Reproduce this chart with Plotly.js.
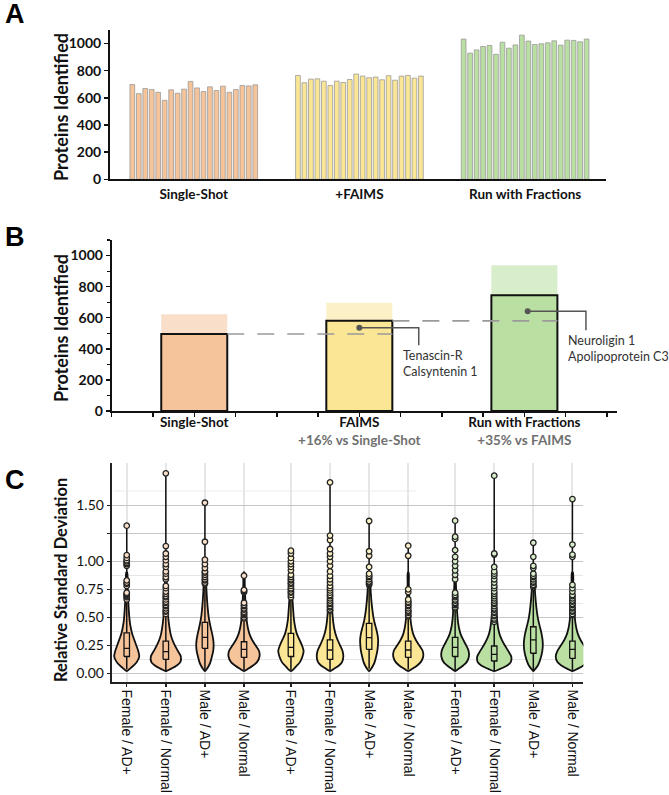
<!DOCTYPE html>
<html><head><meta charset="utf-8">
<script src="https://cdn.plot.ly/plotly-3.0.1.min.js"></script>
<style>html,body{margin:0;padding:0;background:#fff}</style>
</head><body><div id="chart" style="width:669px;height:795px"></div>
<script>
// ---------- Panel A: proteins identified per run ----------
const methodsA = ["Single-Shot", "+FAIMS", "Run with Fractions"];
const singleShotRuns = [698,631,669,661,641,582,659,634,664,721,673,646,681,654,686,641,661,691,688,696];
const faimsRuns = [765,711,738,740,723,691,723,713,735,775,760,748,753,733,763,730,760,765,745,760];
const fractionRuns = [1033,929,953,978,986,921,1010,966,990,1062,1018,993,998,1005,1020,988,1025,1023,1013,1033];

// ---------- Panel B: proteins identified across all runs ----------
const methodsB = ["Single-Shot", "FAIMS", "Run with Fractions"];
const gainLabels = ["", "+16% vs Single-Shot", "+35% vs FAIMS"];
const consistentProteins = [495, 580, 745];
const totalProteins = [622, 696, 937];
const calloutTexts = ["Tenascin-R<br>Calsyntenin 1", "Neuroligin 1<br>Apolipoprotein C3"];
const calloutValues = [536, 641];

// ---------- Panel C: relative standard deviation ----------
const cohorts = ["Female / AD+", "Female / Normal", "Male / AD+", "Male / Normal"];
const rsdMin = [0.035,0.015,0.03,0.03, 0.03,0.025,0.04,0.035, 0.02,0.02,0.025,0.025];
const rsdQ1 = [0.15,0.125,0.223,0.142, 0.15,0.125,0.214,0.142, 0.15,0.11,0.179,0.134];
const rsdMedian = [0.223,0.193,0.321,0.214, 0.232,0.208,0.318,0.208, 0.232,0.17,0.298,0.214];
const rsdQ3 = [0.362,0.288,0.455,0.282, 0.357,0.298,0.446,0.288, 0.321,0.244,0.416,0.288];
const rsdMax = [1.318,1.786,1.523,0.872, 1.095,1.705,1.36,1.14, 1.363,1.765,1.166,1.556];
const densityLevels = [0.02,0.04,0.07,0.10,0.15,0.20,0.25,0.30,0.35,0.40,0.45,0.50,0.60,0.70,0.80,0.90];
const densityProfiles = [
  [0,3,7,10,12.5,11.5,9.5,7.5,5.5,4.2,3.2,2.6,1.8,1.2,0.8,0.5],
  [0,5,11,14.5,15,12,9,6.5,4.8,3.8,3,2.4,1.7,1.2,0.8,0.5],
  [0,2,4,5.5,7,8.3,8.7,8.3,7.3,6,4.8,3.8,2.6,1.8,1.2,0.7],
  [0,4,9,13,15.5,15,11.5,8,5.5,4,3,2.4,1.6,1.1,0.7,0.4],
  [0,3,6,9,11.5,12.7,11,8.5,6,4.5,3.5,2.8,2,1.3,0.9,0.6],
  [0,4,9,12,13.3,12.5,10,7.5,5.5,4.2,3.3,2.7,1.9,1.3,0.9,0.6],
  [0,2,4,5.5,7,8.2,8.8,9,8.3,7,5.5,4.3,2.8,1.8,1.2,0.7],
  [0,4,9,12.5,15,14.5,11,7.5,5,3.6,2.7,2.1,1.4,1,0.6,0.4],
  [0,3.5,8,11.5,13.8,13.5,11,8,5.5,4,3,2.4,1.7,1.2,0.8,0.5],
  [0,6,13,16.5,17,14,10.5,7.5,5.3,4,3.2,2.6,1.8,1.2,0.8,0.5],
  [0,2,4.5,6,7.8,9,9.5,9.2,8.3,7,5.6,4.4,2.9,1.9,1.2,0.7],
  [0,5,11,15,16.7,15,11.5,8,5.5,4,3,2.4,1.7,1.1,0.8,0.5]
];
const rsdOutliers = [
  [0.66,0.68,0.69,0.70,0.71,0.72,0.78,0.80,0.81,0.83,0.96,0.975,0.985,1.0,1.01,1.03,1.056,1.318],
  [0.53,0.55,0.56,0.58,0.60,0.61,0.63,0.64,0.66,0.68,0.69,0.71,0.73,0.76,0.78,0.84,0.86,0.89,0.91,0.95,0.975,1.01,1.04,1.07,1.136,1.786],
  [0.80,0.81,0.83,0.84,0.86,0.88,0.90,0.91,0.94,0.975,1.015,1.175,1.523],
  [0.49,0.50,0.52,0.53,0.54,0.55,0.57,0.58,0.60,0.61,0.63,0.725,0.735,0.745,0.872],
  [0.68,0.70,0.72,0.73,0.75,0.76,0.78,0.80,0.81,0.83,0.84,0.86,0.88,0.92,0.95,0.975,1.0,1.03,1.07,1.095],
  [0.56,0.57,0.59,0.60,0.62,0.63,0.65,0.67,0.69,0.70,0.72,0.74,0.76,0.78,0.81,0.84,0.87,0.91,0.96,1.0,1.04,1.07,1.11,1.19,1.23,1.705],
  [0.79,0.80,0.81,0.82,0.84,0.86,0.87,0.89,0.95,1.05,1.09,1.36],
  [0.51,0.52,0.54,0.55,0.56,0.58,0.60,0.61,0.63,0.64,0.66,0.725,0.75,1.05,1.14],
  [0.58,0.59,0.61,0.62,0.63,0.65,0.66,0.68,0.69,0.70,0.72,0.84,0.88,0.92,0.96,1.0,1.04,1.1,1.2,1.22,1.363],
  [0.46,0.48,0.49,0.51,0.52,0.54,0.55,0.57,0.58,0.60,0.62,0.63,0.65,0.67,0.69,0.71,0.73,0.76,0.78,0.81,0.84,0.87,0.89,0.91,0.95,1.06,1.07,1.765],
  [0.77,0.78,0.79,0.81,0.82,0.84,0.86,0.87,0.89,0.94,0.96,1.04,1.166],
  [0.52,0.53,0.55,0.56,0.58,0.59,0.61,0.62,0.64,0.65,0.67,0.69,0.70,0.73,0.76,0.79,1.04,1.06,1.15,1.556]
];

// ---------- styles ----------
const fillColors = ["#F6C49A", "#FBE696", "#BADFA2"];
const lightColors = ["#F9DFC9", "#FCF1C6", "#D8EECB"];
const FONT = "Lato, 'Open Sans', sans-serif";
const traces = [];

// Panel A bars
const runsA = [singleShotRuns, faimsRuns, fractionRuns];
const groupStride = 25.6;
runsA.forEach((vals, g) => {
  traces.push({
    type: "bar", xaxis: "x", yaxis: "y",
    x: vals.map((v, i) => g * groupStride + i), y: vals, width: 0.73,
    marker: {color: fillColors[g], line: {color: "rgba(150,150,150,0.75)", width: 1}},
    hoverinfo: "y", showlegend: false
  });
});
const centersA = methodsA.map((m, g) => g * groupStride + 9.5);

// Panel B bars
const xB = methodsB.map((m, i) => i);
traces.push({type: "bar", xaxis: "x2", yaxis: "y2", x: xB, y: totalProteins, width: 0.4,
  marker: {color: lightColors, line: {width: 0}}, showlegend: false});
traces.push({type: "bar", xaxis: "x2", yaxis: "y2", x: xB, y: consistentProteins, width: 0.4,
  marker: {color: fillColors, line: {color: "#111", width: 2}}, showlegend: false});
for (let i = 0; i < 2; i++) {
  traces.push({type: "scatter", mode: "lines", xaxis: "x2", yaxis: "y2",
    x: [i + 0.2, i + 1.2], y: [consistentProteins[i], consistentProteins[i]],
    line: {color: "#9a9a9a", width: 1.6, dash: "17px,13px"}, hoverinfo: "skip", showlegend: false});
}
const leaderEnds = [[1.36, 423], [2.373, 519]];
const leaderStarts = [1.0, 2.02];
for (let i = 0; i < 2; i++) {
  traces.push({type: "scatter", mode: "lines", xaxis: "x2", yaxis: "y2",
    x: [leaderStarts[i], leaderEnds[i][0], leaderEnds[i][0]],
    y: [calloutValues[i], calloutValues[i], leaderEnds[i][1]],
    line: {color: "#555", width: 1.5}, hoverinfo: "skip", showlegend: false});
  traces.push({type: "scatter", mode: "markers", xaxis: "x2", yaxis: "y2",
    x: [leaderStarts[i]], y: [calloutValues[i]],
    marker: {color: "#555", size: 6}, hoverinfo: "skip", showlegend: false});
}

// Panel C violins
const pxPerUnit = 39.1;
const boxHalf = 0.07;
const positions = [];
for (let g = 0; g < 3; g++) for (let j = 0; j < 4; j++) positions.push(g * 4 + j + g * 0.2);
const tickTextC = [];
for (let g = 0; g < 3; g++) cohorts.forEach(c => tickTextC.push(c));

positions.forEach((p, k) => {
  const g = Math.floor(k / 4);
  const prof = densityProfiles[k];
  const xs = [], ys = [];
  densityLevels.forEach((lv, i) => { xs.push(p + prof[i] / pxPerUnit); ys.push(lv); });
  for (let i = densityLevels.length - 1; i >= 0; i--) { xs.push(p - prof[i] / pxPerUnit); ys.push(densityLevels[i]); }
  traces.push({type: "scatter", mode: "lines", xaxis: "x3", yaxis: "y3", x: xs, y: ys,
    fill: "toself", fillcolor: fillColors[g], line: {color: "#111", width: 1.8, shape: "spline", smoothing: 0.8},
    hoverinfo: "skip", showlegend: false});
});
{
  const wx = [], wy = [];
  positions.forEach((p, k) => {
    wx.push(p, p, null, p, p, null);
    wy.push(rsdQ3[k], rsdMax[k], null, rsdMin[k], rsdQ1[k], null);
  });
  traces.push({type: "scatter", mode: "lines", xaxis: "x3", yaxis: "y3", x: wx, y: wy,
    line: {color: "#111", width: 1.5}, hoverinfo: "skip", showlegend: false});
}
positions.forEach((p, k) => {
  const g = Math.floor(k / 4);
  traces.push({type: "scatter", mode: "lines", xaxis: "x3", yaxis: "y3",
    x: [p - boxHalf, p + boxHalf, p + boxHalf, p - boxHalf, p - boxHalf],
    y: [rsdQ1[k], rsdQ1[k], rsdQ3[k], rsdQ3[k], rsdQ1[k]],
    fill: "toself", fillcolor: fillColors[g], line: {color: "#111", width: 1.3},
    hoverinfo: "skip", showlegend: false});
  traces.push({type: "scatter", mode: "lines", xaxis: "x3", yaxis: "y3",
    x: [p - boxHalf, p + boxHalf], y: [rsdMedian[k], rsdMedian[k]],
    line: {color: "#111", width: 1.3}, hoverinfo: "y", showlegend: false});
});
positions.forEach((p, k) => {
  const g = Math.floor(k / 4);
  traces.push({type: "scatter", mode: "markers", xaxis: "x3", yaxis: "y3",
    x: rsdOutliers[k].map(() => p), y: rsdOutliers[k],
    marker: {size: 5.5, color: lightColors[g], line: {color: "#222", width: 1.3}},
    hoverinfo: "y", showlegend: false});
});

const tickFontBold = {family: FONT, size: 14, color: "#111", weight: 700};
const labelFontBold = {family: FONT, size: 13.5, color: "#111", weight: 700};
const titleFont = {family: FONT, size: 18, color: "#111", weight: 700};
const letterFont = {family: "'Liberation Sans', Arial, sans-serif", size: 27, color: "#000", weight: 700};

function vTitle(text, xCenterPx, yCenterPx, size) {
  return {xref: "paper", yref: "paper", x: xCenterPx / 669, y: 1 - yCenterPx / 795, xanchor: "center", yanchor: "middle",
    text: text, textangle: -90, showarrow: false, font: Object.assign({}, titleFont, {size: size})};
}
function letter(text, yCenterPx) {
  return {xref: "paper", yref: "paper", x: 15 / 669, y: 1 - yCenterPx / 795, xanchor: "center", yanchor: "middle",
    text: text, showarrow: false, font: letterFont};
}

const layout = {
  width: 669, height: 795, margin: {l: 0, r: 0, t: 0, b: 0},
  paper_bgcolor: "#fff", plot_bgcolor: "rgba(0,0,0,0)", barmode: "overlay",
  font: {family: FONT},
  xaxis: {domain: [0.1644, 0.9058], range: [-3.45, 73.2], anchor: "y",
    tickmode: "array", tickvals: centersA, ticktext: methodsA, ticks: "",
    showline: true, linecolor: "#111", linewidth: 2, showgrid: false, zeroline: false,
    tickfont: labelFontBold, ticklabelstandoff: 2},
  yaxis: {domain: [0.7745, 0.9623], range: [0, 1100], anchor: "x",
    tickmode: "array", tickvals: [0, 200, 400, 600, 800, 1000], ticks: "outside", ticklen: 4, tickwidth: 1.5,
    tickcolor: "#111", showline: true, linecolor: "#111", linewidth: 2, showgrid: false, zeroline: false,
    tickfont: tickFontBold, ticklabelstandoff: 0},
  xaxis2: {domain: [0.167, 0.922], range: [-0.5, 2.56], anchor: "y2",
    tickmode: "array", tickvals: xB,
    ticktext: methodsB.map((m, i) => gainLabels[i] ? m + "<br><span style='color:#707070'>" + gainLabels[i] + "</span>" : m),
    ticks: "", minor: {tickmode: "linear", tick0: 0, dtick: 0.25, ticks: "outside", ticklen: 4, tickwidth: 1.5, tickcolor: "#111"},
    showline: true, linecolor: "#111", linewidth: 2, showgrid: false, zeroline: false,
    tickfont: labelFontBold, ticklabelstandoff: -2},
  yaxis2: {domain: [0.483, 0.6981], range: [0, 1100], anchor: "x2",
    tickmode: "array", tickvals: [0, 200, 400, 600, 800, 1000], ticks: "outside", ticklen: 4, tickwidth: 1.5,
    tickcolor: "#111", minor: {tickmode: "linear", tick0: 0, dtick: 100, ticks: "outside", ticklen: 3, tickwidth: 1.2, tickcolor: "#111"},
    showline: true, linecolor: "#111", linewidth: 2, showgrid: false, zeroline: false,
    tickfont: tickFontBold, ticklabelstandoff: 0},
  xaxis3: {domain: [0.167, 0.872], range: [-0.384, 11.68], anchor: "y3",
    tickmode: "array", tickvals: positions, ticktext: tickTextC, tickangle: 90,
    ticks: "outside", ticklen: 3, tickwidth: 1.5, tickcolor: "#222",
    showline: true, linecolor: "#222", linewidth: 2, showgrid: true, gridcolor: "#e6e6e6", gridwidth: 2, zeroline: false,
    tickfont: {family: "'Liberation Sans', Arial, sans-serif", size: 14, color: "#111"}},
  yaxis3: {domain: [0.1425, 0.4176], range: [-0.075, 1.878], anchor: "x3",
    tickmode: "array", tickvals: [0, 0.25, 0.5, 0.75, 1, 1.25, 1.5],
    ticktext: ["0.00", "0.25", "0.50", "0.75", "1.00", "", "1.50"],
    ticks: "outside", ticklen: 3, tickcolor: "#222",
    minor: {tickmode: "array", tickvals: [0.125, 0.375, 0.625, 0.875], showgrid: true, gridcolor: "#e6e6e6", gridwidth: 1, ticks: ""},
    showline: true, linecolor: "#222", linewidth: 2, showgrid: true, gridcolor: "#c6c6c6", gridwidth: 1.3, zeroline: false,
    tickfont: {family: FONT, size: 14, color: "#111"}},
  shapes: [
    {type: "line", xref: "x3", yref: "y3", x0: -0.33, x1: 7.4, y0: 1.63, y1: 1.63, layer: "below",
      line: {color: "#efefef", width: 1.2}}
  ],
  annotations: [
    letter("A", 14), letter("B", 237), letter("C", 480),
    vTitle("Proteins Identified", 61, 107, 18),
    vTitle("Proteins Identified", 61, 328, 18),
    vTitle("Relative Standard Deviation", 61, 580, 16.5),
    {xref: "x2", yref: "y2", x: 1.255, y: 305, xanchor: "left", yanchor: "middle", align: "left",
      text: calloutTexts[0], showarrow: false, font: {family: FONT, size: 12.5, color: "#333"}},
    {xref: "x2", yref: "y2", x: 2.25, y: 402, xanchor: "left", yanchor: "middle", align: "left",
      text: calloutTexts[1], showarrow: false, font: {family: FONT, size: 12.5, color: "#333"}}
  ]
};

Plotly.newPlot("chart", traces, layout, {displayModeBar: false, staticPlot: true});
</script></body></html>
